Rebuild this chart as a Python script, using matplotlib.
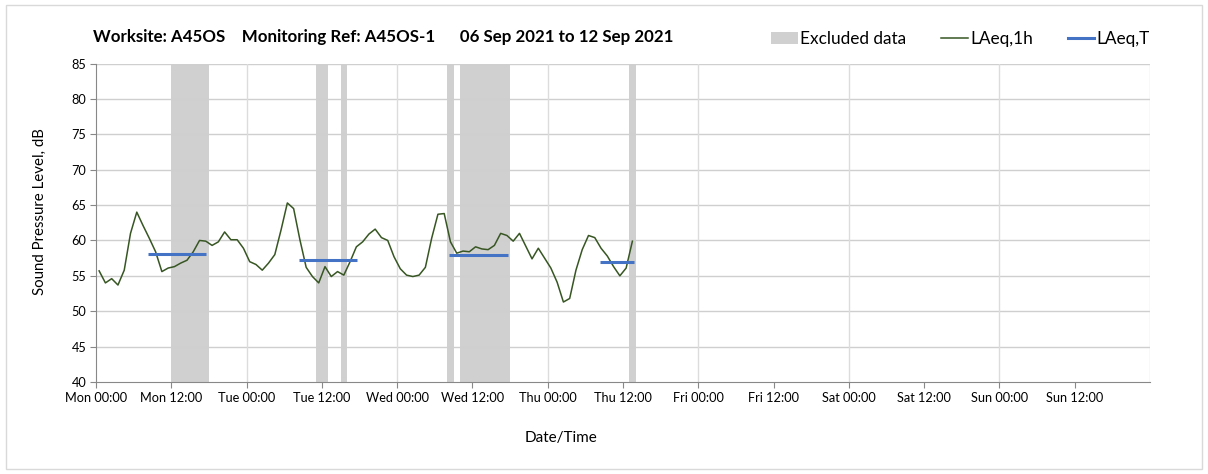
import matplotlib
matplotlib.use('Agg')
import matplotlib.pyplot as plt
from matplotlib.patches import Patch, Rectangle
from matplotlib.lines import Line2D

plt.rcParams['font.family'] = ['Lato', 'DejaVu Sans']

# Hourly LAeq,1h values, one per hour starting Mon 00:00 (plotted at mid-hour)
laeq_1h = [55.7, 54.0, 54.6, 53.7, 55.8, 61.0, 64.0, 62.1, 60.3, 58.4,
           55.6, 56.1, 56.3, 56.8, 57.2, 58.4, 60.0, 59.9, 59.3, 59.8,
           61.2, 60.1, 60.1, 58.9, 57.0, 56.6, 55.8, 56.8, 58.0, 61.5,
           65.3, 64.5, 60.1, 56.2, 54.9, 54.0, 56.3, 54.9, 55.6, 55.1,
           57.0, 59.1, 59.8, 60.9, 61.6, 60.4, 60.0, 57.7, 56.0, 55.1,
           54.9, 55.1, 56.2, 60.3, 63.7, 63.8, 59.8, 58.2, 58.5, 58.4,
           59.1, 58.8, 58.7, 59.3, 61.0, 60.7, 59.9, 61.0, 59.2, 57.4,
           58.9, 57.5, 56.1, 54.1, 51.3, 51.8, 55.8, 58.7, 60.7, 60.4,
           58.9, 57.8, 56.3, 55.0, 56.1, 59.9]
hours = [h + 0.5 for h in range(len(laeq_1h))]

# LAeq,T periods (hours from Mon 00:00) and levels
laeq_t_start = [8.3, 32.4, 56.3, 80.4]
laeq_t_end = [17.6, 41.6, 65.6, 85.7]
laeq_t = [58.1, 57.3, 57.9, 57.0]

# Excluded data periods (hours from Mon 00:00)
excl_start = [12, 35, 39, 56, 58, 85]
excl_end = [18, 37, 40, 57, 66, 86]

days = ['Mon', 'Tue', 'Wed', 'Thu', 'Fri', 'Sat', 'Sun']
tick_hours = list(range(0, 168, 12))
tick_labels = ['{} {}'.format(days[h // 24], '00:00' if h % 24 == 0 else '12:00')
               for h in tick_hours]

GREEN = '#375623'
BLUE = '#4472C4'
GREY = '#d0d0d0'

fig = plt.figure(figsize=(12.08, 4.74), dpi=100)
fig.patches.append(Rectangle((0.005, 0.01), 0.99, 0.98, transform=fig.transFigure,
                             fill=False, edgecolor='#d9d9d9', linewidth=1))
ax = fig.add_axes([96 / 1208, 92 / 474, 1054 / 1208, 318.5 / 474])

for s, e in zip(excl_start, excl_end):
    ax.axvspan(s, e, color=GREY, linewidth=0, zorder=1)

for y in range(45, 86, 5):
    ax.axhline(y, color='#cfcfcf', linewidth=1, zorder=1.5)
for d in range(24, 169, 24):
    ax.axvline(d, color='#dcdcdc', linewidth=1, zorder=1.5)

ax.plot(hours, laeq_1h, color=GREEN, linewidth=1.1, zorder=3)
ax.hlines(laeq_t, laeq_t_start, laeq_t_end, color=BLUE, linewidth=2.2, zorder=4)

ax.set_xlim(0, 168)
ax.set_ylim(40, 85)
ax.set_xticks(tick_hours)
ax.set_xticklabels(tick_labels, fontsize=9.2)
ax.set_yticks(range(40, 86, 5))
ax.tick_params(axis='y', labelsize=9.2, length=4, color='#888888', pad=3)
ax.tick_params(axis='x', length=4, color='#888888', pad=3)

for side in ['top', 'right']:
    ax.spines[side].set_visible(False)
for side in ['left', 'bottom']:
    ax.spines[side].set_color('#888888')

ax.set_ylabel('Sound Pressure Level, dB', fontsize=10.8)
ax.yaxis.set_label_coords(-0.047, 0.535)
fig.text(561 / 1208, 1 - 438 / 474, 'Date/Time', fontsize=11, ha='center', va='center')
fig.text(93 / 1208, 1 - 37 / 474,
         'Worksite: A45OS    Monitoring Ref: A45OS-1      06 Sep 2021 to 12 Sep 2021',
         fontsize=12.2, fontweight='bold', ha='left', va='center')

handles = [Patch(facecolor=GREY, edgecolor='none'),
           Line2D([0], [0], color=GREEN, linewidth=1.1),
           Line2D([0], [0], color=BLUE, linewidth=2.2)]
fig.legend(handles, ['Excluded data', 'LAeq,1h', 'LAeq,T'], loc='center right',
           bbox_to_anchor=(1157 / 1208, 1 - 39 / 474), ncol=3, frameon=False,
           fontsize=12.4, handlelength=1.55, handletextpad=0.15, columnspacing=2.0,
           borderaxespad=0)

fig.savefig('out.png', dpi=100)
